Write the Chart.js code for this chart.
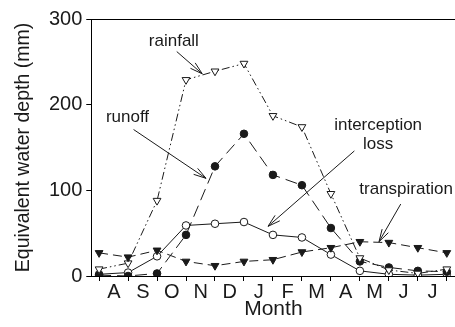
<!DOCTYPE html>
<html>
<head>
<meta charset="utf-8">
<script src="https://cdn.jsdelivr.net/npm/chart.js@4.4.0/dist/chart.umd.min.js"></script>
<style>
  html, body { margin: 0; padding: 0; background: #fff; overflow: hidden; width: 455px; height: 327px; }
  #wrap { position: relative; width: 461px; height: 327px; }
</style>
</head>
<body>
<div id="wrap"><canvas id="c" width="461" height="327"></canvas></div>
<script>
// Month labels (each label sits between two month-boundary ticks)
const months = ['A', 'S', 'O', 'N', 'D', 'J', 'F', 'M', 'A', 'M', 'J', 'J'];
// Data points sit at month boundaries: index 0..12
const positions = [0, 1, 2, 3, 4, 5, 6, 7, 8, 9, 10, 11, 12];
const rainfall     = [8, 15, 88, 229, 239, 248, 187, 174, 96, 21, 7, 3, 8];
const runoff       = [1, 0, 3, 48, 128, 166, 118, 106, 56, 17, 10, 6, 5];
const interception = [2, 4, 23, 59, 61, 63, 48, 45, 25, 6, 2, 1, 2];
const transpiration= [27, 22, 30, 17, 12, 17, 19, 28, 33, 40, 39, 33, 27];
const yTicks = [0, 100, 200, 300];

// Annotation texts and arrows, in data coordinates
const noteTexts = [
  { lines: ['rainfall'], x: 2.58, y: 274, align: 'center' },
  { lines: ['runoff'], x: 0.98, y: 185, align: 'center' },
  { lines: ['interception', 'loss'], x: 9.63, y: 176, align: 'center' },
  { lines: ['transpiration'], x: 8.98, y: 101, align: 'left' }
];
const noteArrows = [
  { x1: 2.68, y1: 262, x2: 3.56, y2: 236 },
  { x1: 1.19, y1: 171, x2: 3.69, y2: 114 },
  { x1: 8.81, y1: 146, x2: 5.83, y2: 58 },
  { x1: 10.41, y1: 84, x2: 9.66, y2: 40 }
];

const ink = '#1a1a1a';
const FONT = '"Liberation Sans", Arial, sans-serif';
const pts = arr => arr.map((v, i) => ({ x: positions[i], y: v }));

const framePlugin = {
  id: 'frame',
  afterDraw(chart) {
    const { ctx, chartArea } = chart;
    ctx.save();
    ctx.strokeStyle = '#000';
    ctx.lineWidth = 1;
    ctx.beginPath();
    ctx.moveTo(chartArea.left, chartArea.top + 0.5);
    ctx.lineTo(chartArea.right, chartArea.top + 0.5);
    ctx.stroke();
    ctx.restore();
  }
};

const notePlugin = {
  id: 'notes',
  afterDatasetsDraw(chart) {
    const { ctx } = chart;
    const xs = chart.scales.x, ys = chart.scales.y;
    ctx.save();
    ctx.fillStyle = ink;
    ctx.font = '17px ' + FONT;
    ctx.textBaseline = 'middle';
    const lh = 19;
    noteTexts.forEach(t => {
      ctx.textAlign = t.align;
      const px = xs.getPixelForValue(t.x), py = ys.getPixelForValue(t.y);
      t.lines.forEach((ln, k) => ctx.fillText(ln, px, py + k * lh));
    });
    ctx.strokeStyle = ink;
    ctx.lineWidth = 1;
    noteArrows.forEach(a => {
      const x1 = xs.getPixelForValue(a.x1), y1 = ys.getPixelForValue(a.y1);
      const x2 = xs.getPixelForValue(a.x2), y2 = ys.getPixelForValue(a.y2);
      const ang = Math.atan2(y2 - y1, x2 - x1);
      const hl = 13, ha = 0.28;
      ctx.beginPath();
      ctx.moveTo(x1, y1); ctx.lineTo(x2, y2);
      ctx.moveTo(x2, y2); ctx.lineTo(x2 - hl * Math.cos(ang - ha), y2 - hl * Math.sin(ang - ha));
      ctx.moveTo(x2, y2); ctx.lineTo(x2 - hl * Math.cos(ang + ha), y2 - hl * Math.sin(ang + ha));
      ctx.stroke();
    });
    ctx.restore();
  }
};

new Chart(document.getElementById('c'), {
  type: 'line',
  data: {
    datasets: [
      {
        label: 'transpiration', data: pts(transpiration),
        borderColor: ink, borderWidth: 1, borderDash: [9, 5],
        pointStyle: 'triangle', rotation: 180, pointRadius: 4.5,
        pointBackgroundColor: ink, pointBorderColor: ink, pointBorderWidth: 1, tension: 0
      },
      {
        label: 'rainfall', data: pts(rainfall),
        borderColor: ink, borderWidth: 1, borderDash: [8, 3, 1.5, 3, 1.5, 3],
        pointStyle: 'triangle', rotation: 180, pointRadius: 4.5,
        pointBackgroundColor: '#fff', pointBorderColor: ink, pointBorderWidth: 1, tension: 0
      },
      {
        label: 'runoff', data: pts(runoff),
        borderColor: ink, borderWidth: 1, borderDash: [12, 6],
        pointStyle: 'circle', pointRadius: 3.8,
        pointBackgroundColor: ink, pointBorderColor: ink, pointBorderWidth: 1, tension: 0
      },
      {
        label: 'interception loss', data: pts(interception),
        borderColor: ink, borderWidth: 1,
        pointStyle: 'circle', pointRadius: 3.8,
        pointBackgroundColor: '#fff', pointBorderColor: ink, pointBorderWidth: 1, tension: 0
      }
    ]
  },
  options: {
    responsive: false,
    animation: false,
    events: [],
    layout: { padding: { top: 19, left: 0, right: 0, bottom: 7 } },
    plugins: { legend: { display: false }, tooltip: { enabled: false } },
    scales: {
      x: {
        type: 'linear', min: -0.27, max: 12.3,
        afterBuildTicks: s => { s.ticks = positions.map(v => ({ value: v })); },
        ticks: {
          autoSkip: false, maxRotation: 0, minRotation: 0,
          callback: v => (v < months.length ? months[v] : ''),
          labelOffset: 14.75, padding: 1,
          color: ink, font: { family: FONT, size: 20, lineHeight: 1 }
        },
        grid: { drawOnChartArea: false, tickLength: 5, color: '#000', tickWidth: 1 },
        border: { color: '#000', width: 1 },
        title: {
          display: true, text: 'Month', color: ink, padding: { top: -4, bottom: 0 },
          font: { family: FONT, size: 21, lineHeight: 1 }
        }
      },
      y: {
        min: 0, max: 300,
        afterBuildTicks: s => { s.ticks = yTicks.map(v => ({ value: v })); },
        ticks: {
          padding: 4, color: ink,
          font: { family: FONT, size: 20, lineHeight: 1 }
        },
        grid: { drawOnChartArea: false, tickLength: 5, color: '#000', tickWidth: 1 },
        border: { color: '#000', width: 1 },
        title: {
          display: true, text: 'Equivalent water depth (mm)', color: ink,
          padding: { top: 12, bottom: 9.5 },
          font: { family: FONT, size: 19.5, lineHeight: 1.2 }
        }
      }
    }
  },
  plugins: [framePlugin, notePlugin]
});
</script>
</body>
</html>
